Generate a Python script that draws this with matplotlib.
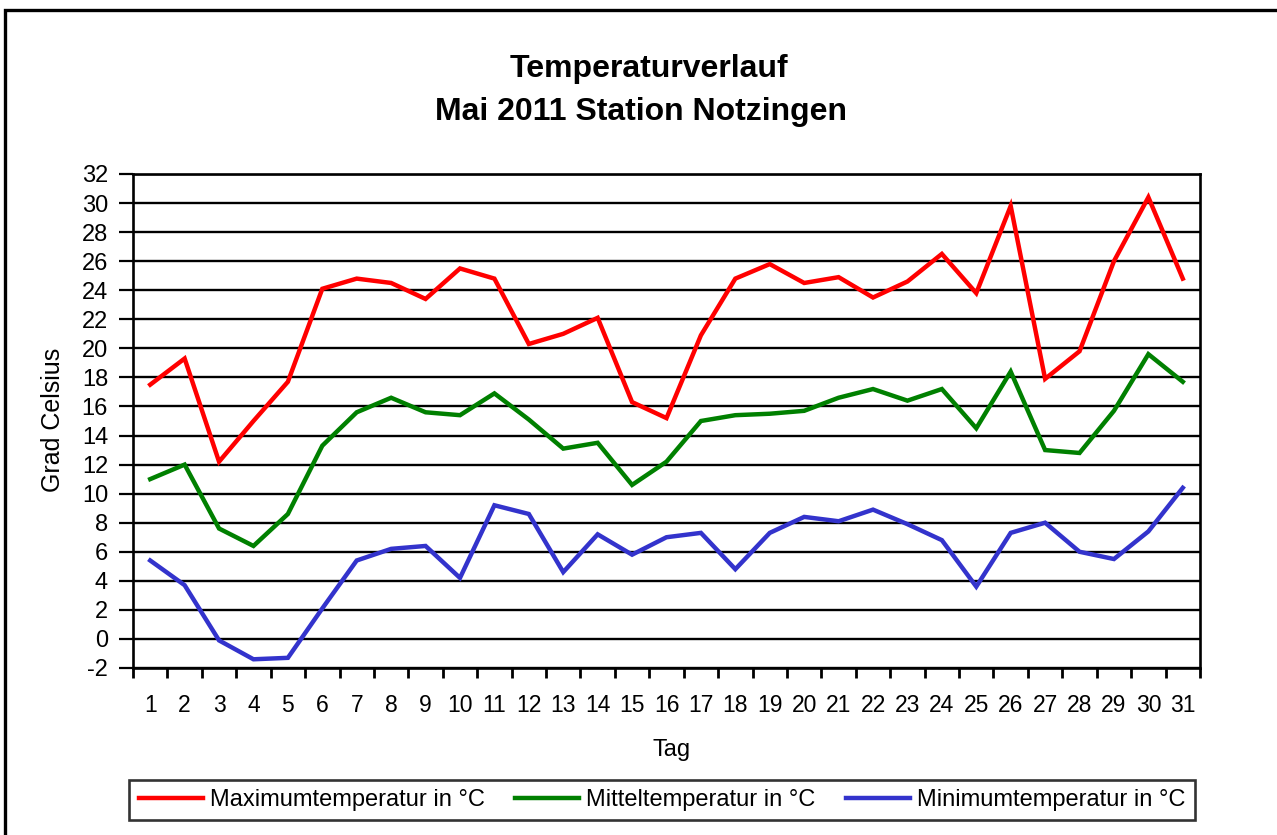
import matplotlib
matplotlib.use("Agg")
import matplotlib.pyplot as plt
from matplotlib.patches import Rectangle
from matplotlib.lines import Line2D

days = list(range(1, 32))
t_max = [17.5, 19.3, 12.2, 15.0, 17.7, 24.1, 24.8, 24.5, 23.4, 25.5,
         24.8, 20.3, 21.0, 22.1, 16.3, 15.2, 20.9, 24.8, 25.8, 24.5,
         24.9, 23.5, 24.6, 26.5, 23.8, 29.8, 17.9, 19.8, 26.0, 30.4, 24.8]
t_mean = [11.0, 12.0, 7.6, 6.4, 8.6, 13.3, 15.6, 16.6, 15.6, 15.4,
          16.9, 15.1, 13.1, 13.5, 10.6, 12.2, 15.0, 15.4, 15.5, 15.7,
          16.6, 17.2, 16.4, 17.2, 14.5, 18.4, 13.0, 12.8, 15.7, 19.6, 17.7]
t_min = [5.4, 3.7, -0.1, -1.4, -1.3, 2.1, 5.4, 6.2, 6.4, 4.2,
         9.2, 8.6, 4.6, 7.2, 5.8, 7.0, 7.3, 4.8, 7.3, 8.4,
         8.1, 8.9, 7.9, 6.8, 3.6, 7.3, 8.0, 6.0, 5.5, 7.4, 10.4]
y_ticks = list(range(-2, 33, 2))
labels = ["Maximumtemperatur in °C", "Mitteltemperatur in °C", "Minimumtemperatur in °C"]
colors = ["#FF0000", "#008000", "#3333CC"]

plt.rcParams['font.family'] = ['Liberation Sans', 'DejaVu Sans']

W, H = 1277, 835
fig = plt.figure(figsize=(W / 100, H / 100), dpi=100)
fig.patch.set_facecolor("white")

# outer frame (extends beyond the image on right/bottom)
fig.patches.append(Rectangle((5 / W, -0.1), 1.2, (H - 10) / H + 0.1,
                             transform=fig.transFigure, fill=False,
                             edgecolor="black", linewidth=2.4))

ax = fig.add_axes([133 / W, 1 - 668 / H, (1200 - 133) / W, (668 - 174) / H])
for ys, c in zip([t_max, t_mean, t_min], colors):
    ax.plot(days, ys, color=c, linewidth=3.2, solid_joinstyle="miter", zorder=3)

ax.set_xlim(0.5, 31.5)
ax.set_ylim(-2, 32)
ax.set_yticks(y_ticks)
ax.set_yticklabels([str(v) for v in y_ticks], fontsize=17)
ax.set_xticks(days)
ax.set_xticklabels([str(d) for d in days], fontsize=16.5)
ax.set_xticks([d + 0.5 for d in range(0, 32)], minor=True)
ax.tick_params(axis="x", which="major", length=0, pad=19)
ax.tick_params(axis="x", which="minor", length=7, width=2, direction="out")
ax.tick_params(axis="y", which="major", length=10, width=1.6, direction="out", pad=8)
ax.yaxis.grid(True, color="black", linewidth=1.7, zorder=1)
ax.set_axisbelow(True)
for s in ax.spines.values():
    s.set_linewidth(1.9)
    s.set_color("black")

fig.text(649 / W, 1 - 77 / H, "Temperaturverlauf", ha="center", va="baseline",
         fontsize=23, fontweight="bold")
fig.text(641 / W, 1 - 120 / H, "Mai 2011 Station Notzingen", ha="center", va="baseline",
         fontsize=23, fontweight="bold")
fig.text(53 / W, 1 - 420 / H, "Grad Celsius", rotation=90, ha="center", va="center",
         fontsize=18)
fig.text(672 / W, 1 - 750 / H, "Tag", ha="center", va="center", fontsize=17)

handles = [Line2D([], [], color=c, linewidth=3.2) for c in colors]
leg = fig.legend(handles, labels, loc="center", ncol=3,
                 bbox_to_anchor=(662 / W, 1 - 800 / H), fontsize=17,
                 frameon=True, fancybox=False, handlelength=2.7,
                 handletextpad=0.3, columnspacing=1.3, borderpad=0.4,
                 borderaxespad=0)
leg.get_frame().set_edgecolor("black")
leg.get_frame().set_linewidth(1.9)

fig.savefig("out.png", dpi=100, facecolor="white")
